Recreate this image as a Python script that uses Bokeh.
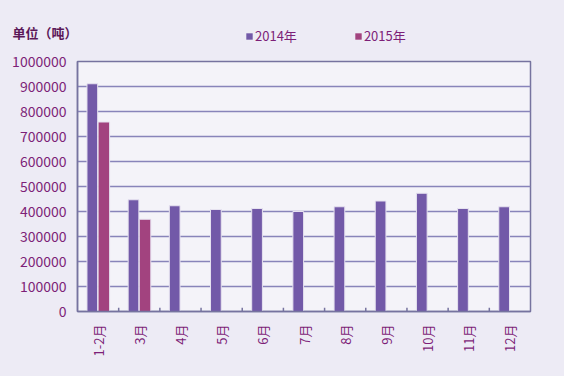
import math
from bokeh.plotting import figure
from bokeh.layouts import column
from bokeh.models import ColumnDataSource, Legend, LegendItem, NumeralTickFormatter, FixedTicker
from bokeh.transform import dodge
from bokeh.embed import file_html
from bokeh.resources import INLINE

months = ["1-2月", "3月", "4月", "5月", "6月", "7月", "8月", "9月", "10月", "11月", "12月"]
v2014 = [911000, 447000, 423000, 408000, 412000, 400000, 419000, 442000, 473000, 412000, 419000]
months2015 = ["1-2月", "3月"]
v2015 = [758000, 369000]
y_ticks = [0, 100000, 200000, 300000, 400000, 500000, 600000, 700000, 800000, 900000, 1000000]
series_names = ["2014年", "2015年"]
unit_label = "单位（吨）"

C14 = "#7259a8"
C15 = "#a2437f"
TXT = "#7d1f78"
GRID = "#8884ba"
AX = "#76739f"
OUTER = "#edebf5"
FONT = "Noto Sans CJK SC"

W = 564
TOP_H = 51

# ---- header strip: unit label (as a left-axis label) + legend
ph = figure(width=W, height=TOP_H, x_range=(0, 1), y_range=(TOP_H, 0),
            output_backend="svg", toolbar_location=None,
            min_border_left=77, min_border_right=34, min_border_top=0, min_border_bottom=0)
ph.xaxis.visible = False
ph.grid.visible = False
ph.outline_line_color = None
ph.background_fill_color = OUTER
ph.border_fill_color = OUTER
ph.yaxis.ticker = FixedTicker(ticks=[31.5])
ph.yaxis.major_label_overrides = {31.5: unit_label}
ph.yaxis.axis_line_color = None
ph.yaxis.major_tick_line_color = None
ph.yaxis.minor_tick_line_color = None
ph.yaxis.major_tick_out = 0
ph.yaxis.major_tick_in = 0
ph.yaxis.major_label_standoff = 0
ph.yaxis.major_label_text_font = FONT
ph.yaxis.major_label_text_font_size = "13px"
ph.yaxis.major_label_text_font_style = "bold"
ph.yaxis.major_label_text_color = "#5b1758"

d14 = ph.vbar(x=[0.5], top=[float("nan")], width=0.1, fill_color=C14, line_color=None)
d15 = ph.vbar(x=[0.5], top=[float("nan")], width=0.1, fill_color=C15, line_color=None)
legend = Legend(items=[LegendItem(label=series_names[0], renderers=[d14]),
                       LegendItem(label=series_names[1], renderers=[d15])],
                orientation="horizontal", location=(168, 6),
                glyph_width=8, glyph_height=8, label_standoff=2, spacing=57,
                padding=0, margin=0, background_fill_alpha=0, border_line_color=None,
                label_text_font=FONT, label_text_font_size="13px", label_text_color=TXT,
                label_height=14)
ph.add_layout(legend, "center")

# ---- main chart
p = figure(x_range=months, y_range=(0, 1000000), width=W, height=376 - TOP_H,
           output_backend="svg", toolbar_location=None,
           min_border_left=77, min_border_right=34, min_border_top=10, min_border_bottom=65)

p.background_fill_color = "#f4f3f9"
p.border_fill_color = OUTER
p.outline_line_color = AX
p.outline_line_width = 1.5

src14 = ColumnDataSource(dict(m=months, v=v2014))
src15 = ColumnDataSource(dict(m=months2015, v=v2015))
p.vbar(x=dodge("m", -0.14, range=p.x_range), top="v", width=0.26, source=src14,
       fill_color=C14, line_color="#e6e2f0", line_width=1)
p.vbar(x=dodge("m", 0.14, range=p.x_range), top="v", width=0.28, source=src15,
       fill_color=C15, line_color="#e6e2f0", line_width=1)

# tick marks at category boundaries
tsrc = ColumnDataSource(dict(m=months[1:], y0=[0] * (len(months) - 1), y1=[15000] * (len(months) - 1)))
p.segment(x0=dodge("m", -0.5, range=p.x_range), x1=dodge("m", -0.5, range=p.x_range),
          y0="y0", y1="y1", source=tsrc, line_color=AX, line_width=1.5)

p.xgrid.grid_line_color = None
p.ygrid.grid_line_color = GRID
p.ygrid.grid_line_width = 1.5
p.yaxis.ticker = FixedTicker(ticks=y_ticks)
p.yaxis.formatter = NumeralTickFormatter(format="0")

for ax in (p.xaxis, p.yaxis):
    ax.axis_line_color = AX
    ax.axis_line_width = 1.5
    ax.major_tick_line_color = None
    ax.minor_tick_line_color = None
    ax.major_tick_out = 0
    ax.major_tick_in = 0
    ax.major_label_text_color = TXT
    ax.major_label_text_font = FONT

p.yaxis.major_label_text_font_size = "14px"
p.yaxis.major_label_standoff = 11
p.xaxis.major_label_text_font_size = "13px"
p.xaxis.major_label_orientation = math.pi / 2
p.xaxis.major_label_standoff = 13

layout = column(ph, p, spacing=0)
layout.styles = {"background-color": OUTER}
open("out.html", "w").write(file_html(layout, INLINE))
